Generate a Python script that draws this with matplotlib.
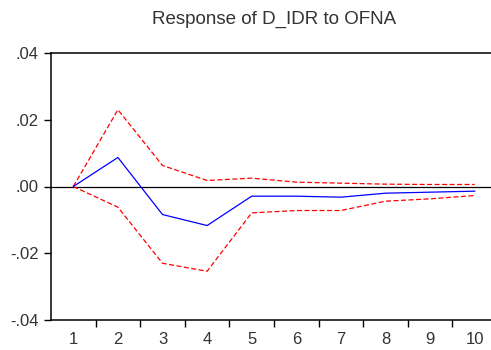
import numpy as np
import matplotlib
matplotlib.use('Agg')
import matplotlib.pyplot as plt

plt.rcParams['font.family'] = ['Liberation Sans', 'DejaVu Sans']

periods = [1, 2, 3, 4, 5, 6, 7, 8, 9, 10]
response = [0.0, 0.0087, -0.0084, -0.0117, -0.0029, -0.0029, -0.0032, -0.0020, -0.0017, -0.0014]
upper = [0.0, 0.0230, 0.0063, 0.0018, 0.0025, 0.0013, 0.0010, 0.0007, 0.0006, 0.0006]
lower = [0.0, -0.0062, -0.0230, -0.0254, -0.0079, -0.0072, -0.0072, -0.0044, -0.0037, -0.0027]
ytick_vals = [-0.04, -0.02, 0.0, 0.02, 0.04]
ytick_labels = ['-.04', '-.02', '.00', '.02', '.04']

fig = plt.figure(figsize=(4.91, 3.5), dpi=100)
fig.patch.set_facecolor('white')
ax = fig.add_axes([51 / 491, 30 / 350, 446 / 491, 267 / 350])

ax.axhline(0, color='black', lw=0.9, zorder=1)
ax.plot(periods, upper, color='#ff0000', lw=0.9, ls=(0, (4, 2)), zorder=2)
ax.plot(periods, lower, color='#ff0000', lw=0.9, ls=(0, (4, 2)), zorder=2)
ax.plot(periods, response, color='#0000ff', lw=0.9, zorder=3)

ax.set_xlim(0.5, 10.5)
ax.set_ylim(-0.04, 0.04)
ax.set_yticks(ytick_vals)
ax.set_yticklabels(ytick_labels)
ax.set_xticks(periods)
ax.set_xticklabels([str(p) for p in periods])
ax.set_xticks(np.arange(1.5, 10.5, 1), minor=True)
ax.tick_params(axis='x', which='major', length=0, pad=9, labelsize=12, labelcolor='#333333')
ax.tick_params(axis='x', which='minor', length=5, width=1, direction='out')
ax.tick_params(axis='y', length=5, width=1, direction='out', pad=4, labelsize=12, labelcolor='#333333')

ax.spines['right'].set_visible(False)
for s in ['left', 'bottom', 'top']:
    ax.spines[s].set_linewidth(1.1)
    ax.spines[s].set_color('black')

fig.text(274 / 491, 1 - 19 / 350, 'Response of D_IDR to OFNA', ha='center', va='center',
         fontsize=13.5, color='#333333')

fig.savefig('out.png', dpi=100)
